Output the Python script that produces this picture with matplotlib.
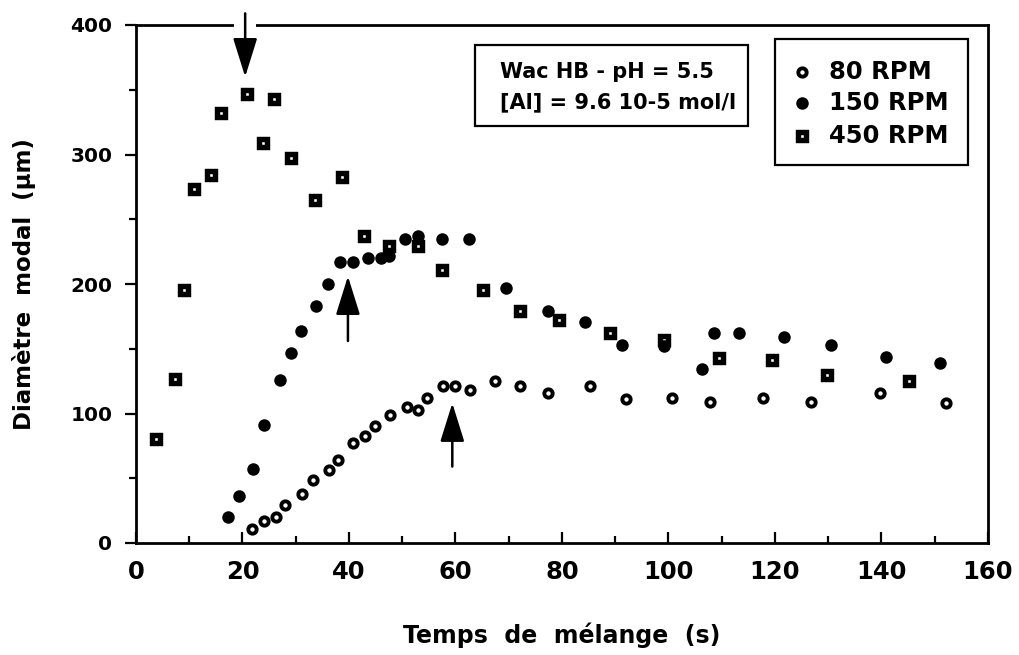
import matplotlib
matplotlib.use("Agg")
import matplotlib.pyplot as plt
from matplotlib.patches import Rectangle

plt.rcParams['font.family'] = ['DejaVu Sans']
plt.rcParams['font.weight'] = 'bold'

# 80 RPM (open circles)
t_80 = [21.8, 24.1, 26.2, 28.0, 31.1, 33.2, 36.2, 38.0, 40.8, 43.0, 44.8, 47.7,
        50.8, 52.9, 54.7, 57.7, 59.9, 62.7, 67.5, 72.2, 77.4, 85.3, 92.1, 100.6,
        107.7, 117.8, 126.7, 139.8, 152.2]
d_80 = [11, 17, 20, 29, 38, 49, 56, 64, 77, 83, 90, 99,
        105, 103, 112, 121, 121, 118, 125, 121, 116, 121, 111, 112,
        109, 112, 109, 116, 108]

# 150 RPM (filled circles)
t_150 = [17.2, 19.3, 21.9, 24.1, 27.0, 29.2, 30.9, 33.8, 36.1, 38.4, 40.8, 43.6,
         46.0, 47.6, 50.6, 52.9, 57.5, 62.6, 69.5, 77.3, 84.3, 91.3, 99.2, 106.2,
         108.5, 113.3, 121.7, 130.5, 140.8, 150.9]
d_150 = [20, 36, 57, 91, 126, 147, 164, 183, 200, 217, 217, 220,
         220, 222, 235, 237, 235, 235, 197, 179, 171, 153, 152, 134,
         162, 162, 159, 153, 144, 139]

# 450 RPM (squares)
t_450 = [3.8, 7.3, 9.0, 10.8, 14.0, 16.0, 20.8, 23.8, 25.9, 29.1, 33.7, 38.6,
         42.9, 47.6, 52.9, 57.5, 65.2, 72.1, 79.4, 89.0, 99.2, 109.4, 119.5,
         129.7, 145.2]
d_450 = [80, 127, 195, 273, 284, 332, 347, 309, 343, 297, 265, 283,
         237, 229, 229, 211, 195, 179, 172, 162, 157, 143, 141,
         130, 125]

# arrows: (x, tail y, tip y)
arrow_x = [20.5, 39.8, 59.4]
arrow_tail = [409, 156, 59]
arrow_tip = [360, 206, 108]

series_labels = ['80 RPM', '150 RPM', '450 RPM']
info_lines = ['Wac HB - pH = 5.5', '[Al] = 9.6 10-5 mol/l']
xticks = [0, 20, 40, 60, 80, 100, 120, 140, 160]
yticks = [0, 100, 200, 300, 400]

fig = plt.figure(figsize=(10.2, 6.55), dpi=100)
ax = fig.add_axes([136/1020, 1-543/655, 852/1020, 518/655])

open_kw = dict(ls='none', marker='o', ms=6.0, mfc='white', mec='black', mew=2.8)
fill_kw = dict(ls='none', marker='o', ms=9.0, mfc='black', mec='black', mew=0)
sq_kw = dict(ls='none', marker='s', ms=6.4, mfc='white', mec='black', mew=3.9)
styles = [open_kw, fill_kw, sq_kw]

ax.plot(t_450, d_450, zorder=3, **sq_kw)
ax.plot(t_150, d_150, zorder=4, **fill_kw)
ax.plot(t_80, d_80, zorder=4, **open_kw)

for x, y0, y1 in zip(arrow_x, arrow_tail, arrow_tip):
    if y0 > 400:
        # small gap in the top frame where the arrow crosses it
        ax.plot([x - 2.1, x + 2.1], [400, 400], color='white', lw=4,
                solid_capstyle='butt', clip_on=False, zorder=5)
    ax.annotate('', xy=(x, y1), xytext=(x, y0), annotation_clip=False,
                arrowprops=dict(arrowstyle='-|>,head_length=1.6,head_width=0.5',
                                mutation_scale=15, lw=1.8, color='black',
                                shrinkA=0, shrinkB=0), zorder=6)

ax.set_xlim(0, 160)
ax.set_ylim(0, 400)
ax.set_xticks(xticks)
ax.set_xticklabels([str(v) for v in xticks])
ax.set_xticks(list(range(10, 160, 20)), minor=True)
ax.set_yticks(yticks)
ax.set_yticklabels([str(v) for v in yticks])
ax.set_yticks([50, 150, 250, 350], minor=True)

ax.tick_params(axis='x', which='major', direction='in', length=8, width=1.6,
               labelsize=17.5, pad=12)
ax.tick_params(axis='x', which='minor', direction='in', length=5, width=1.6)
ax.tick_params(axis='y', which='major', direction='out', length=8, width=1.6,
               labelsize=14.5, pad=9)
ax.tick_params(axis='y', which='minor', direction='out', length=5, width=1.6)
for lab in ax.get_xticklabels() + ax.get_yticklabels():
    lab.set_fontweight('bold')
for s in ax.spines.values():
    s.set_linewidth(2)

ax.set_xlabel('Temps  de  mélange  (s)', fontsize=17, fontweight='bold', labelpad=28)
ax.set_ylabel('Diamètre  modal  (µm)', fontsize=16.5, fontweight='bold', labelpad=25)

# info box
ax.add_patch(Rectangle((0.398, 0.805), 0.32, 0.156, transform=ax.transAxes,
                       fill=False, ec='black', lw=1.6, zorder=5))
for yy, line in zip([0.909, 0.851], info_lines):
    ax.text(0.427, yy, line, transform=ax.transAxes, fontsize=15,
            fontweight='bold', va='center', ha='left')

# legend box
ax.add_patch(Rectangle((0.750, 0.730), 0.2265, 0.243, transform=ax.transAxes,
                       fill=True, fc='white', ec='black', lw=1.6, zorder=5))
for yy, lab, st in zip([0.9098, 0.8494, 0.7857], series_labels, styles):
    ax.plot([0.7817], [yy], transform=ax.transAxes, clip_on=False, zorder=6, **st)
    ax.text(0.8134, yy, lab, transform=ax.transAxes, fontsize=17.5,
            fontweight='bold', va='center', ha='left', zorder=6)

fig.savefig('out.png', dpi=100)
